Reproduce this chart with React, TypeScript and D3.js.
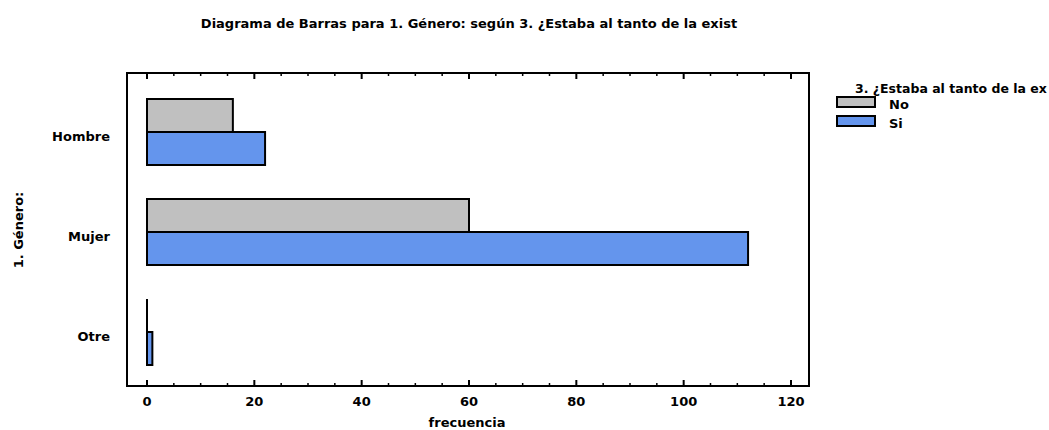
import * as d3 from "d3";

const W = 1049;
const H = 430;

const categories = ["Hombre", "Mujer", "Otre"];
const seriesNames = ["No", "Si"];
const noValues = [16, 60, 0];
const siValues = [22, 112, 1];
const xTicks = [0, 20, 40, 60, 80, 100, 120];

const COLORS = ["#c0c0c0", "#6495ed"];
const FONT = "'DejaVu Sans', Arial, sans-serif";

const frame = { left: 127, top: 73, right: 809, bottom: 386 };

export default function App() {
  const x = d3.scaleLinear().domain([0, 120]).range([147, 791]);
  const y = d3
    .scaleBand<string>()
    .domain(categories)
    .range([82, 382])
    .paddingInner(0.34)
    .paddingOuter(0.17);
  const sub = d3.scaleBand<string>().domain(seriesNames).range([0, y.bandwidth()]);

  const values = [noValues, siValues];
  const minor = d3.range(0, 121, 5).filter((v) => v % 20 !== 0);

  return (
    <svg width={W} height={H} style={{ position: "absolute", left: 0, top: 0 }} fontFamily={FONT} fontWeight="bold">
      <rect width={W} height={H} fill="#fff" />
      <text x={469} y={28} textAnchor="middle" fontSize={13}>
        Diagrama de Barras para 1. Género: según 3. ¿Estaba al tanto de la exist
      </text>

      {/* bars */}
      {categories.map((c, i) =>
        seriesNames.map((s, j) => {
          const v = values[j][i];
          const y0 = (y(c) ?? 0) + (sub(s) ?? 0);
          if (v === 0)
            return (
              <line key={c + s} x1={x(0)} x2={x(0)} y1={y0} y2={y0 + sub.bandwidth()} stroke="#000" strokeWidth={2} />
            );
          return (
            <rect
              key={c + s}
              x={x(0)}
              y={y0}
              width={x(v) - x(0)}
              height={sub.bandwidth()}
              fill={COLORS[j]}
              stroke="#000"
              strokeWidth={2}
            />
          );
        })
      )}

      {/* frame */}
      <rect
        x={frame.left}
        y={frame.top}
        width={frame.right - frame.left}
        height={frame.bottom - frame.top}
        fill="none"
        stroke="#000"
        strokeWidth={2}
      />

      {/* ticks */}
      {xTicks.map((t) => (
        <g key={t}>
          <line x1={x(t)} x2={x(t)} y1={frame.bottom} y2={frame.bottom - 6} stroke="#000" strokeWidth={2} />
          <line x1={x(t)} x2={x(t)} y1={frame.top} y2={frame.top + 6} stroke="#000" strokeWidth={2} />
          <text x={x(t)} y={406} textAnchor="middle" fontSize={13}>
            {t}
          </text>
        </g>
      ))}
      {minor.map((t) => (
        <g key={"m" + t}>
          <line x1={x(t)} x2={x(t)} y1={frame.bottom} y2={frame.bottom - 3} stroke="#000" strokeWidth={1.5} />
          <line x1={x(t)} x2={x(t)} y1={frame.top} y2={frame.top + 3} stroke="#000" strokeWidth={1.5} />
        </g>
      ))}

      {/* category labels */}
      {categories.map((c) => (
        <text key={c} x={110} y={(y(c) ?? 0) + y.bandwidth() / 2 + 9} textAnchor="end" fontSize={13}>
          {c}
        </text>
      ))}

      <text x={467} y={427} textAnchor="middle" fontSize={13}>
        frecuencia
      </text>
      <text transform="translate(23,230) rotate(-90)" textAnchor="middle" fontSize={13}>
        1. Género:
      </text>

      {/* legend */}
      <text x={855} y={93} fontSize={12.5}>
        3. ¿Estaba al tanto de la ex
      </text>
      {seriesNames.map((s, j) => (
        <g key={s} transform={`translate(0,${j * 19})`}>
          <rect x={837} y={97} width={38} height={10} fill={COLORS[j]} stroke="#000" strokeWidth={2} />
          <text x={889} y={109} fontSize={13}>
            {s}
          </text>
        </g>
      ))}
    </svg>
  );
}
